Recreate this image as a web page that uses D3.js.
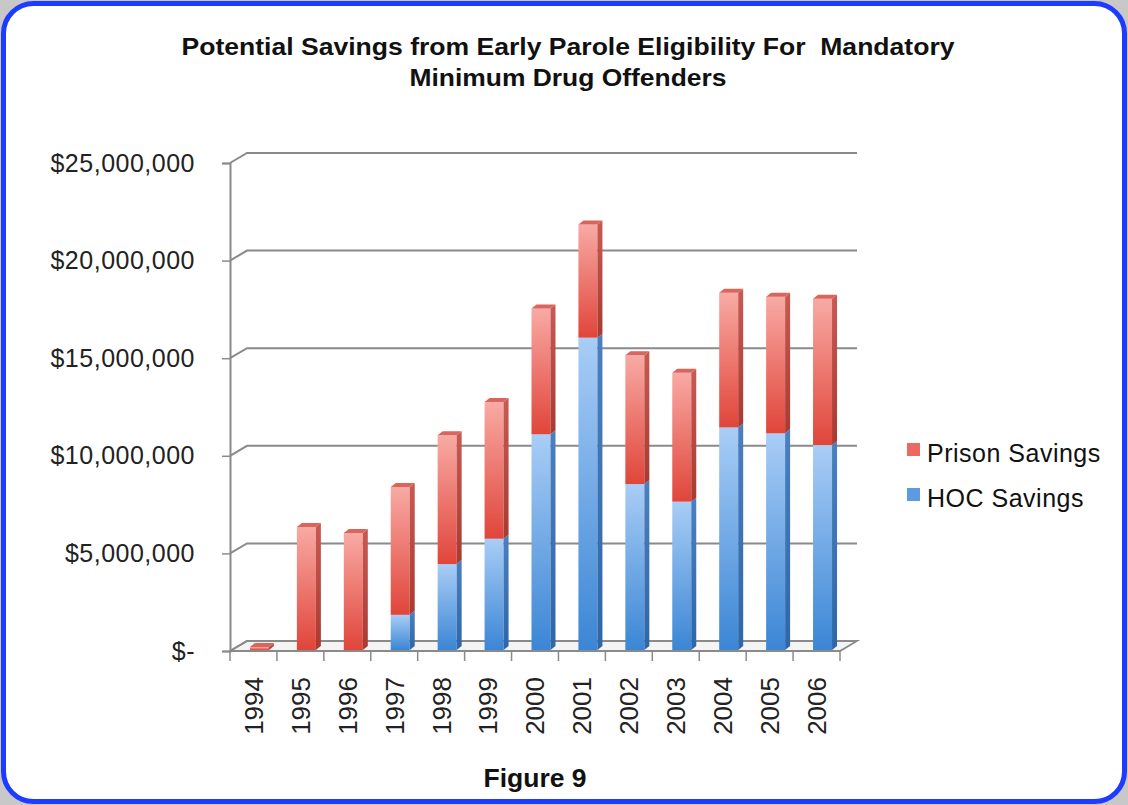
<!DOCTYPE html>
<html>
<head>
<meta charset="utf-8">
<script src="https://cdn.jsdelivr.net/npm/d3@7"></script>
<style>
  body { margin: 0; background: #c8c8c8; }
  svg { display: block; font-family: "Liberation Sans", Arial, sans-serif; }
</style>
</head>
<body>
<div id="chart"></div>
<script>
const years = ["1994", "1995", "1996", "1997", "1998", "1999", "2000",
  "2001", "2002", "2003", "2004", "2005", "2006"];
// values, in dollars
const hocSavings = [0, 0, 0, 1.8e6, 4.4e6, 5.7e6, 11.05e6, 16.0e6, 8.5e6, 7.6e6, 11.4e6, 11.1e6, 10.5e6];
const prisonSavings = [0.15e6, 6.3e6, 6.0e6, 6.55e6, 6.6e6, 7.0e6, 6.45e6, 5.8e6, 6.6e6, 6.6e6, 6.9e6, 7.0e6, 7.5e6];
const yTicks = [0, 5e6, 10e6, 15e6, 20e6, 25e6];
const seriesNames = ["Prison Savings", "HOC Savings"];

const svgWidth = 1128;
const svgHeight = 805;

// front plane of the 3d box
const left = 230, right = 840, floorY = 651, topY = 163;
// depth of the box (back wall offset)
const depthX = 17, depthY = -10;

const svg = d3.select("#chart")
  .append("svg")
  .attr("width", svgWidth)
  .attr("height", svgHeight);

// rounded blue frame
svg.append("rect")
  .attr("x", 3.5).attr("y", 3.5)
  .attr("width", svgWidth - 7).attr("height", svgHeight - 7)
  .attr("rx", 30)
  .attr("fill", "#fff")
  .attr("stroke", "#1d3cff")
  .attr("stroke-width", 5);

const defs = svg.append("defs");
function vGrad(id, top, bottom) {
  const g = defs.append("linearGradient")
    .attr("id", id).attr("x1", 0).attr("y1", 0).attr("x2", 0).attr("y2", 1);
  g.append("stop").attr("offset", "0%").attr("stop-color", top);
  g.append("stop").attr("offset", "100%").attr("stop-color", bottom);
}
vGrad("redFace", "#f8aaa4", "#e0453a");
vGrad("blueFace", "#a9cdf6", "#3b86d5");
vGrad("redSide", "#c85a53", "#a83a32");
vGrad("blueSide", "#4a80c0", "#2f66a8");

// title (the source text is a little wider than Arial, so stretch it)
svg.append("text")
  .attr("x", 568).attr("y", 55)
  .attr("text-anchor", "middle")
  .attr("textLength", 773).attr("lengthAdjust", "spacingAndGlyphs")
  .style("font-weight", "bold").style("font-size", "23px")
  .style("white-space", "pre")
  .attr("fill", "#111")
  .text("Potential Savings from Early Parole Eligibility For  Mandatory");
svg.append("text")
  .attr("x", 568).attr("y", 86)
  .attr("text-anchor", "middle")
  .attr("textLength", 317).attr("lengthAdjust", "spacingAndGlyphs")
  .style("font-weight", "bold").style("font-size", "23px")
  .attr("fill", "#111")
  .text("Minimum Drug Offenders");

// scales
const y = d3.scaleLinear().domain([0, 25e6]).range([floorY, topY]);
const x = d3.scaleBand().domain(years).range([left, right]).paddingInner(0.6).paddingOuter(0.3);
const step = x.step();

const gridColor = "#8a8a8a";

// floor
svg.append("path")
  .attr("d", `M${left},${floorY} L${right},${floorY} L${right + depthX},${floorY + depthY} L${left + depthX},${floorY + depthY} Z`)
  .attr("fill", "#f4f4f4")
  .attr("stroke", gridColor)
  .attr("stroke-width", 1.8);

// back wall gridlines with the diagonal on the left wall
const grid = svg.append("g");
yTicks.forEach(v => {
  grid.append("path")
    .attr("d", `M${left},${y(v)} L${left + depthX},${y(v) + depthY} L${right + depthX},${y(v) + depthY}`)
    .attr("fill", "none")
    .attr("stroke", gridColor)
    .attr("stroke-width", 2);
});

// y axis
const yAxis = svg.append("g")
  .attr("transform", `translate(${left},0)`)
  .call(d3.axisLeft(y)
    .tickValues(yTicks)
    .tickSize(8)
    .tickPadding(27)
    .tickFormat(d => d === 0 ? "$-" : "$" + d3.format(",")(d)));
yAxis.select(".domain").attr("stroke", gridColor).attr("stroke-width", 2);
yAxis.selectAll(".tick line").attr("stroke", gridColor).attr("stroke-width", 1.5);
yAxis.selectAll(".tick text")
  .style("font-size", "25px")
  .style("letter-spacing", "0.5px")
  .style("font-family", "'Liberation Sans', Arial, sans-serif")
  .attr("fill", "#222");

// x axis: ticks at category boundaries
const xg = svg.append("g");
years.concat(["end"]).forEach((d, i) => {
  const xx = left + i * step;
  xg.append("line")
    .attr("x1", xx).attr("x2", xx)
    .attr("y1", floorY).attr("y2", floorY + 10)
    .attr("stroke", gridColor).attr("stroke-width", 1.5);
});
xg.selectAll("text.year")
  .data(years)
  .enter()
  .append("text")
  .attr("class", "year")
  .attr("transform", d => `translate(${x(d) + x.bandwidth() / 2},677) rotate(-90)`)
  .attr("text-anchor", "end")
  .attr("dy", "0.36em")
  .style("font-size", "26px")
  .attr("fill", "#222")
  .text(d => d);

// 3d stacked bars
const barW = 19, sideX = 5, sideY = -4, barShiftX = 6, barShiftY = -1;
const stackData = years.map((yr, i) => ({
  year: yr,
  segs: [
    { key: "hoc", y0: 0, y1: hocSavings[i] },
    { key: "prison", y0: hocSavings[i], y1: hocSavings[i] + prisonSavings[i] }
  ].filter(s => s.y1 > s.y0)
}));

const bars = svg.append("g").selectAll("g")
  .data(stackData)
  .enter()
  .append("g");

bars.each(function (d) {
  const g = d3.select(this);
  const bx = x(d.year) + x.bandwidth() / 2 + barShiftX - barW / 2;
  d.segs.forEach((s, k) => {
    const yTop = y(s.y1) + barShiftY;
    const yBot = y(s.y0) + barShiftY;
    const isRed = s.key === "prison";
    // front face
    g.append("rect")
      .attr("x", bx).attr("y", yTop)
      .attr("width", barW).attr("height", Math.max(0.5, yBot - yTop))
      .attr("fill", isRed ? "url(#redFace)" : "url(#blueFace)");
    // side face
    g.append("path")
      .attr("d", `M${bx + barW},${yTop} L${bx + barW + sideX},${yTop + sideY} L${bx + barW + sideX},${yBot + sideY} L${bx + barW},${yBot} Z`)
      .attr("fill", isRed ? "url(#redSide)" : "url(#blueSide)");
    // top cap on the last segment
    if (k === d.segs.length - 1) {
      g.append("path")
        .attr("d", `M${bx},${yTop} L${bx + sideX},${yTop + sideY} L${bx + barW + sideX},${yTop + sideY} L${bx + barW},${yTop} Z`)
        .attr("fill", isRed ? "#d9655d" : "#5f97d6");
    }
  });
});

// legend
const legend = svg.append("g");
const legendColors = ["#ea6a62", "#5e9ae0"];
seriesNames.forEach((name, i) => {
  legend.append("rect")
    .attr("x", 907).attr("y", 443 + i * 45)
    .attr("width", 13).attr("height", 13)
    .attr("fill", legendColors[i]);
  legend.append("text")
    .attr("x", 927).attr("y", 462 + i * 45)
    .style("font-size", "25px")
    .style("letter-spacing", "0.5px")
    .attr("fill", "#111")
    .text(name);
});

// caption
svg.append("text")
  .attr("x", 535).attr("y", 787)
  .attr("text-anchor", "middle")
  .attr("textLength", 103).attr("lengthAdjust", "spacingAndGlyphs")
  .style("font-weight", "bold").style("font-size", "25px")
  .attr("fill", "#111")
  .text("Figure 9");
</script>
</body>
</html>
